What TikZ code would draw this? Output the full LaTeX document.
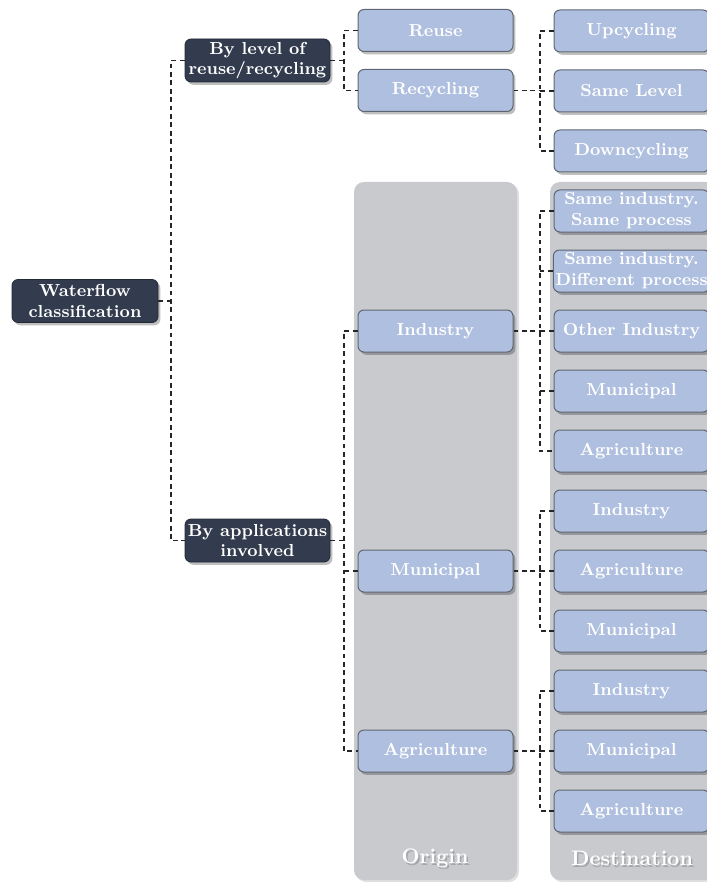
\documentclass[tikz,border=0pt]{standalone}
\usetikzlibrary{shadows}
\definecolor{boxdark}{RGB}{50,60,78}
\definecolor{boxlight}{RGB}{175,191,223}
\definecolor{boxedge}{RGB}{95,102,115}
\definecolor{panelgray}{RGB}{201,202,206}
\begin{document}
\begin{tikzpicture}[x=0.5pt,y=-0.5pt,
  txt/.style={font=\fontsize{8.7}{10.4}\selectfont\bfseries, text=white, align=center},
  boxshadow/.style={drop shadow={shadow xshift=1.2pt, shadow yshift=-1.4pt, opacity=0.25, fill=black}},
  darkbox/.style={txt, boxshadow, rounded corners=3pt, fill=boxdark, draw=boxdark!70!black,
    line width=0.4pt, minimum width=72.5pt, minimum height=21.5pt, inner sep=1pt},
  lightbox/.style={txt, boxshadow, rounded corners=3pt, fill=boxlight, draw=boxedge,
    line width=0.5pt, minimum width=77.5pt, minimum height=21pt, inner sep=1pt},
  panel/.style={fill=panelgray, rounded corners=5pt,
    drop shadow={shadow xshift=1pt, shadow yshift=-1pt, opacity=0.12, fill=black}},
  panellabel/.style={font=\fontsize{10.5}{12}\selectfont\bfseries, text=white},
  labelshadow/.style={font=\fontsize{10.5}{12}\selectfont\bfseries, text=black, opacity=0.18},
  conn/.style={draw=black!85, line width=0.85pt, dash pattern=on 2.4pt off 1.8pt}
]
\useasboundingbox (0,0) rectangle (706,882);

% background columns
\path[panel] (354,182) rectangle (517,880);
\path[panel] (550,182) rectangle (716,880);
\node[labelshadow] (originshadow) at (436.5,860.5) {Origin};
\node[panellabel] (origin) at (435,858) {Origin};
\node[labelshadow] (destshadow) at (633.5,860.5) {Destination};
\node[panellabel] (dest) at (632,858) {Destination};

% root and first level
\node[darkbox, minimum width=73pt] (wf) at (85,301) {Waterflow\\classification};
\node[darkbox] (bl) at (257.5,60.5) {By level of\\reuse/recycling};
\node[darkbox] (ba) at (257.5,540.5) {By applications\\involved};

% reuse / recycling branch
\node[lightbox] (reuse) at (435.5,30.5) {Reuse};
\node[lightbox] (recyc) at (435.5,90.5) {Recycling};
\node[lightbox] (up) at (631.5,31) {Upcycling};
\node[lightbox] (same) at (631.5,91) {Same Level};
\node[lightbox] (down) at (631.5,151) {Downcycling};

% origins
\node[lightbox] (oind) at (435.5,331) {Industry};
\node[lightbox] (omun) at (435.5,571) {Municipal};
\node[lightbox] (oagr) at (435.5,751) {Agriculture};

% destinations
\node[lightbox] (d1) at (631.5,211) {Same industry.\\Same process};
\node[lightbox] (d2) at (631.5,271) {Same industry.\\Different process};
\node[lightbox] (d3) at (631.5,331) {Other Industry};
\node[lightbox] (d4) at (631.5,391) {Municipal};
\node[lightbox] (d5) at (631.5,451) {Agriculture};
\node[lightbox] (d6) at (631.5,511) {Industry};
\node[lightbox] (d7) at (631.5,571) {Agriculture};
\node[lightbox] (d8) at (631.5,631) {Municipal};
\node[lightbox] (d9) at (631.5,691) {Industry};
\node[lightbox] (d10) at (631.5,751) {Municipal};
\node[lightbox] (d11) at (631.5,811) {Agriculture};

% bus lines
\coordinate (busA) at (171,0);
\coordinate (busB) at (344,0);
\coordinate (busC) at (540,0);

\draw[conn] (wf.east) -- (wf.east -| busA);
\draw[conn] (bl.west) -- (bl.west -| busA) |- (ba.west);

\draw[conn] (bl.east) -- (bl.east -| busB);
\draw[conn] (reuse.west) -- (reuse.west -| busB) |- (recyc.west);

\draw[conn] (recyc.east) -- (recyc.east -| busC);
\draw[conn] (up.west) -- (up.west -| busC) |- (down.west);
\draw[conn] (same.west) -- (same.west -| busC);

\draw[conn] (ba.east) -- (ba.east -| busB);
\draw[conn] (oind.west) -- (oind.west -| busB) |- (oagr.west);
\draw[conn] (omun.west) -- (omun.west -| busB);

\draw[conn] (oind.east) -- (oind.east -| busC);
\draw[conn] (d1.west) -- (d1.west -| busC) |- (d5.west);
\foreach \n in {d2,d3,d4} \draw[conn] (\n.west) -- (\n.west -| busC);

\draw[conn] (omun.east) -- (omun.east -| busC);
\draw[conn] (d6.west) -- (d6.west -| busC) |- (d8.west);
\draw[conn] (d7.west) -- (d7.west -| busC);

\draw[conn] (oagr.east) -- (oagr.east -| busC);
\draw[conn] (d9.west) -- (d9.west -| busC) |- (d11.west);
\draw[conn] (d10.west) -- (d10.west -| busC);
\end{tikzpicture}
\end{document}
